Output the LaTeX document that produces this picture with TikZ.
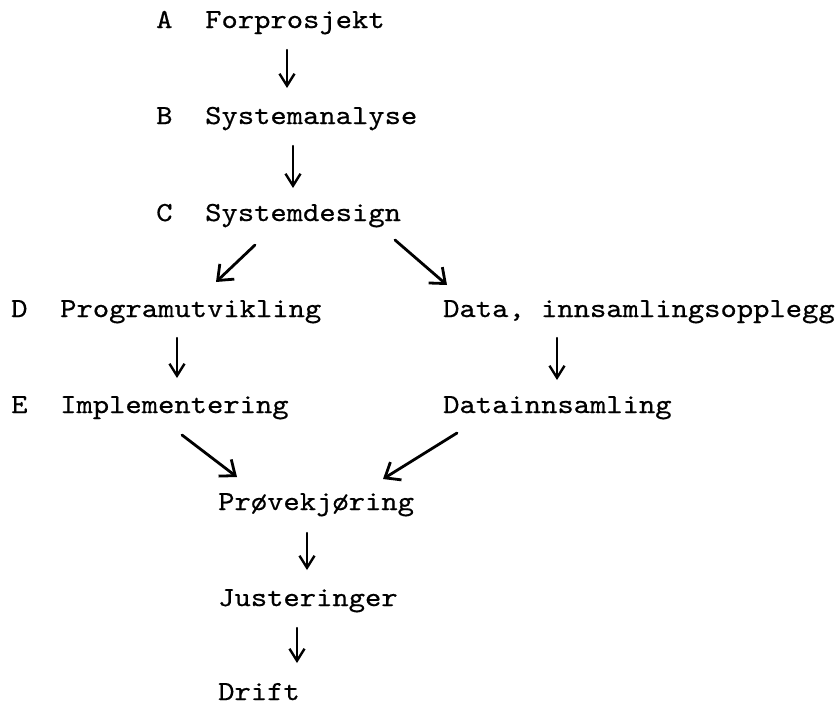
\documentclass[tikz,border=0pt]{standalone}
\usepackage{fontspec}
\newfontfamily\tw{lmmono10-regular}[Extension=.otf, FakeStretch=1.13, FakeBold=0.6]
\usetikzlibrary{arrows.meta}
\begin{document}
\begin{tikzpicture}[x=1pt, y=-1pt,
  txt/.style={anchor=base west, inner sep=0pt, font=\tw\fontsize{27.5}{30}\selectfont},
  varr/.style={line width=2.4pt, line cap=round, -{Straight Barb[length=12pt,width=15pt,line width=2.4pt]}},
  darr/.style={line width=2.8pt, line cap=round, -{Straight Barb[length=13pt,width=21pt,line width=2.8pt]}}]
\fill[white] (0,0) rectangle (840,707);
\useasboundingbox (0,0) rectangle (840,707);
% row labels
\node[txt] (lA) at (156,28) {A};
\node[txt] (tA) at (205,28) {Forprosjekt};
\node[txt] (lB) at (156,124) {B};
\node[txt] (tB) at (205,124) {Systemanalyse};
\node[txt] (lC) at (156,221) {C};
\node[txt] (tC) at (205,221) {Systemdesign};
\node[txt] (lD) at (11,317) {D};
\node[txt] (tD) at (60,317) {Programutvikling};
\node[txt] (tDa) at (443,317) {Data, innsamlingsopplegg};
\node[txt] (lE) at (11,413) {E};
\node[txt] (tE) at (60,413) {Implementering};
\node[txt] (tDi) at (443,413) {Datainnsamling};
\node[txt] (tP) at (218,510) {Prøvekjøring};
\node[txt] (tJ) at (218,606) {Justeringer};
\node[txt] (tDr) at (218,700) {Drift};
% connectors
\draw[varr] ([shift={(82,22)}]tA.base west) -- ([shift={(82,-36)}]tB.base west);
\draw[varr] ([shift={(88,22)}]tB.base west) -- ([shift={(88,-33)}]tC.base west);
\draw[darr] ([shift={(50,24)}]tC.base west) -- ([shift={(156,-35)}]tD.base west);
\draw[darr] ([shift={(190,19)}]tC.base west) -- ([shift={(4,-32)}]tDa.base west);
\draw[varr] ([shift={(117,21)}]tD.base west) -- ([shift={(117,-35)}]tE.base west);
\draw[varr] ([shift={(114,21)}]tDa.base west) -- ([shift={(114,-33)}]tDi.base west);
\draw[darr] ([shift={(122,22)}]tE.base west) -- ([shift={(19,-33)}]tP.base west);
\draw[darr] ([shift={(14,20)}]tDi.base west) -- ([shift={(165,-31)}]tP.base west);
\draw[varr] ([shift={(89,23)}]tP.base west) -- ([shift={(89,-36)}]tJ.base west);
\draw[varr] ([shift={(79,22)}]tJ.base west) -- ([shift={(79,-37)}]tDr.base west);
\end{tikzpicture}
\end{document}
